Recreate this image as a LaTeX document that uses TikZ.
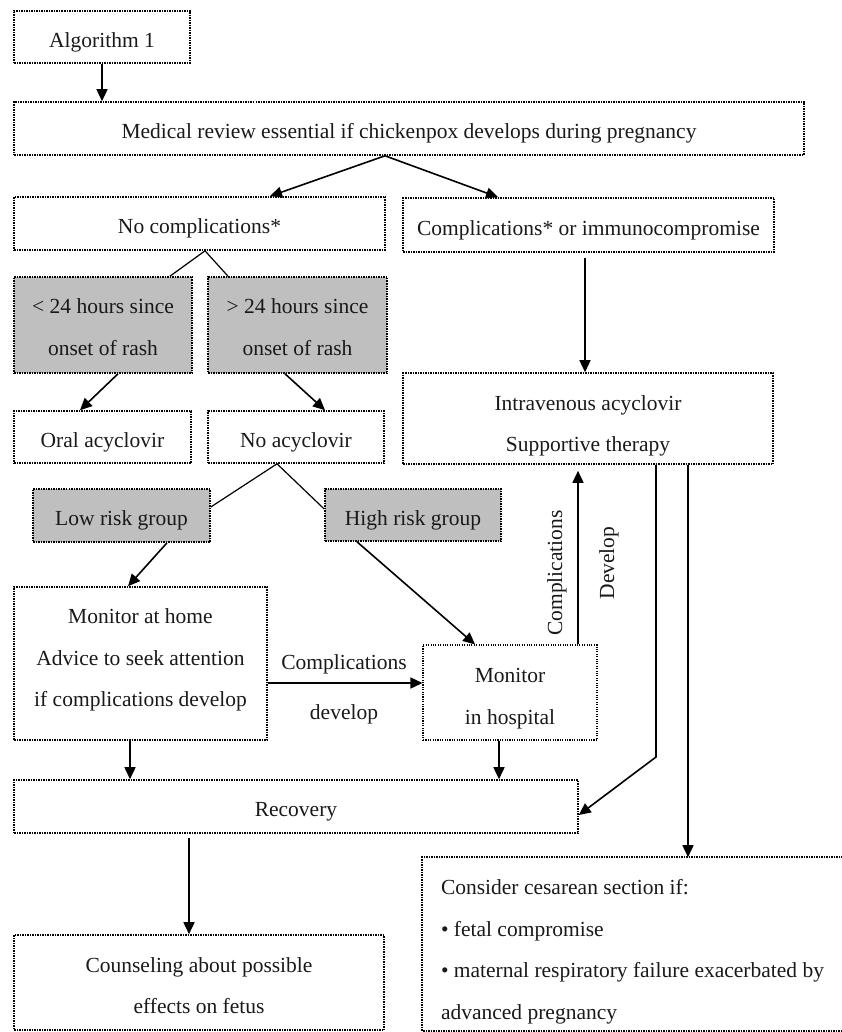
\documentclass[tikz,border=0pt]{standalone}
\usepackage{fontspec}
\setmainfont{Liberation Serif}
\usetikzlibrary{arrows.meta}
\newcommand{\up}[1]{\rule{0pt}{#1pt}}
\newcommand{\dn}[1]{\rule[-#1pt]{0pt}{0pt}}
\begin{document}
\begin{tikzpicture}[x=1pt,y=-1pt,
  every node/.style={font=\fontsize{21.5}{41.5}\selectfont, text=black!90},
  bord/.style={draw=black, line width=1.6pt, dash pattern=on 1.5pt off 1pt},
  box/.style={bord, inner sep=0pt, align=center},
  sgl/.style={box, execute at begin node={\rule{0pt}{25pt}}},
  thinbox/.style={box, line width=1.1pt, dash pattern=on 1.1pt off 1.3pt},
  shaded/.style={box, fill=gray!50},
  sshaded/.style={sgl, fill=gray!50},
  arr/.style={line width=1.6pt, -{Triangle[length=12pt,width=11pt]}},
  ln/.style={line width=1.2pt},
  lbl/.style={inner sep=0pt}
]
\useasboundingbox (0,0) rectangle (842,1032);

% boxes
\node[sgl, minimum width=176pt, minimum height=52pt] (alg) at (102,37) {Algorithm 1};
\node[sgl, minimum width=790pt, minimum height=53pt] (med) at (409,128.5) {Medical review essential if chickenpox develops during pregnancy};
\node[sgl, minimum width=371pt, minimum height=53pt] (nocomp) at (199.5,223.5) {No complications*};
\node[sgl, minimum width=371pt, minimum height=54pt] (comp) at (588.5,225) {Complications* or immunocompromise};
\node[shaded, minimum width=178pt, minimum height=96pt] (lt) at (103,325) {\up{19}< 24 hours since\\onset of rash};
\node[shaded, minimum width=179pt, minimum height=96pt] (gt) at (297.5,325) {\up{19}> 24 hours since\\onset of rash};
\node[sgl, minimum width=177pt, minimum height=52pt] (oral) at (102.5,437) {Oral acyclovir};
\node[sgl, minimum width=176pt, minimum height=52pt] (noacy) at (296,437) {No acyclovir};
\node[box, minimum width=370pt, minimum height=91pt] (iv) at (588,418.5) {\up{30}Intravenous acyclovir\\Supportive therapy};
\node[sshaded, minimum width=177pt, minimum height=53pt] (low) at (121.5,515.5) {Low risk group};
\node[sshaded, minimum width=176pt, minimum height=52pt] (high) at (413,515) {High risk group};
\node[box, minimum width=253pt, minimum height=153pt] (home) at (140.5,663.5) {Monitor at home\\Advice to seek attention\\if complications develop\dn{11}};
\node[thinbox, minimum width=174pt, minimum height=95pt] (hosp) at (510,692.5) {\up{27}Monitor\\in hospital};
\node[sgl, minimum width=564pt, minimum height=53pt] (recov) at (296,806.5) {Recovery};
\node[box, minimum width=370pt, minimum height=95pt] (couns) at (199,982.5) {\up{21}Counseling about possible\\effects on fetus};
\node[box, draw=none, align=left, minimum width=419pt, minimum height=172pt] (cesar) at (632.5,944) {\up{31}Consider cesarean section if:\\\textbullet\ fetal compromise\\\textbullet\ maternal respiratory failure exacerbated by\\advanced pregnancy};
\draw[bord] (cesar.north east) -- (cesar.north west) -- (cesar.south west) -- (cesar.south east);

% labels
\node[lbl] (lcomp) at (344,664) {Complications};
\node[lbl] (ldev) at (344,714) {develop};
\node[lbl, rotate=90] (lcomp2) at (557,573) {Complications};
\node[lbl, rotate=90] (ldev2) at (609,563) {Develop};

% connectors
\draw[arr] (alg.south) -- (alg.south |- med.north);
\draw[arr] ([xshift=-24pt]med.south) -- ([xshift=70.5pt]nocomp.north);
\draw[arr] ([xshift=-24pt]med.south) -- ([xshift=-90.5pt]comp.north);
\draw[ln] ([xshift=67pt]lt.north) -- ([xshift=5.5pt]nocomp.south) -- ([xshift=-69.5pt]gt.north);
\draw[arr] ([xshift=15pt]lt.south) -- ([xshift=-22.5pt]oral.north);
\draw[arr] ([xshift=-12.5pt]gt.south) -- ([xshift=29pt]noacy.north);
\draw[arr] ([xshift=-3.5pt,yshift=-5pt]comp.south) -- ([xshift=-3.5pt]comp.south |- iv.north);
\draw[ln] ([yshift=8.5pt]low.east) -- ([xshift=-19pt]noacy.south) -- ([yshift=6pt]high.west);
\draw[arr] ([xshift=45.5pt]low.south) -- ([xshift=-12.5pt]home.north);
\draw[arr] ([xshift=-56pt]high.south) -- ([xshift=-35pt]hosp.north);
\draw[arr] ([yshift=-19.5pt]home.east) -- ([yshift=-19.5pt]home.east -| hosp.west);
\draw[arr, shorten >=6pt] ([xshift=68pt]hosp.north) -- ([xshift=68pt]hosp.north |- iv.south);
\coordinate (bend) at (656,757);
\draw[arr] (iv.south -| bend) -- (bend) -- ([yshift=-8.5pt]recov.east);
\draw[arr] ([xshift=100pt]iv.south) -- ([xshift=100pt]iv.south |- cesar.north);
\draw[arr] ([xshift=-10.5pt]home.south) -- ([xshift=-10.5pt]home.south |- recov.north);
\draw[arr] ([xshift=-11pt]hosp.south) -- ([xshift=-11pt]hosp.south |- recov.north);
\draw[arr] ([xshift=-10pt,yshift=-4pt]couns.north |- recov.south) -- ([xshift=-10pt]couns.north);
\end{tikzpicture}
\end{document}
